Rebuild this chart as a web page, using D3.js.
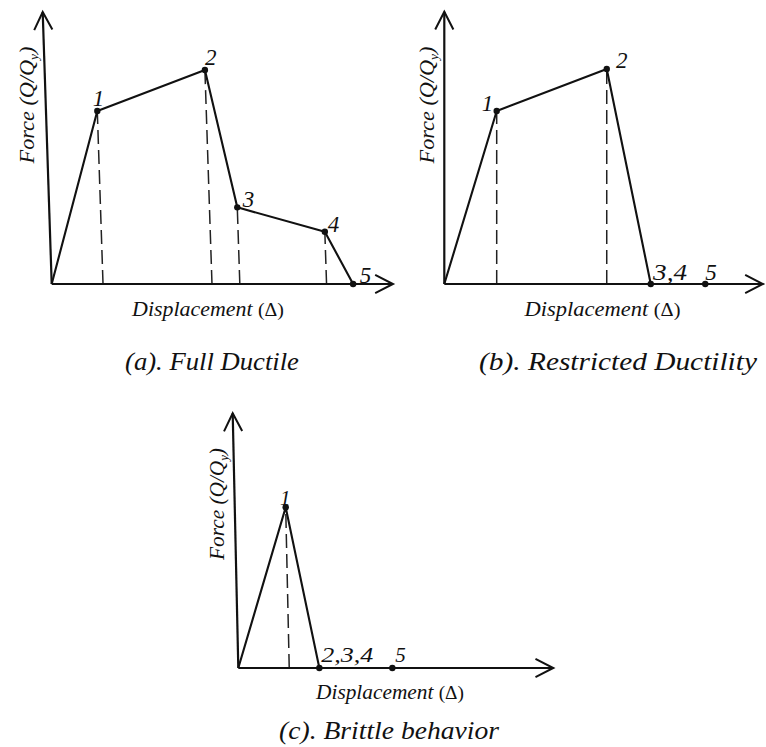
<!DOCTYPE html>
<html>
<head>
<meta charset="utf-8">
<script src="https://cdn.jsdelivr.net/npm/d3@7"></script>
<style>
  html, body { margin: 0; padding: 0; background: #fff; }
  svg { display: block; }
  svg text { font-family: "Liberation Serif", serif; }
</style>
</head>
<body>
<script>
// Idealised force–displacement curves.
// Displacement in units of yield displacement (Δ/Δy), force as Q/Qy.
const ductileDisp   = [0, 1.00, 3.36, 4.07, 5.99, 6.61];
const ductileForce  = [0, 1.00, 1.237, 0.443, 0.302, 0];
const ductileLabels = [null, "1", "2", "3", "4", "5"];

const restrictedDisp   = [0, 1.00, 3.10, 3.94, 4.98];
const restrictedForce  = [0, 1.00, 1.243, 0, 0];
const restrictedLabels = [null, "1", "2", "3,4", "5"];

const brittleDisp   = [0, 1.00, 1.71, 3.25];
const brittleForce  = [0, 1.00, 0, 0];
const brittleLabels = [null, "1", "2,3,4", "5"];

const panelTitles = ["(a). Full Ductile", "(b). Restricted Ductility", "(c). Brittle behavior"];
const xAxisWord = "Displacement";
const xAxisSymbol = "(Δ)";
const yAxisWord = "Force";

// Axis extents of each panel (data units)
const axisXMax = [7.485, 6.082, 6.646];
const axisYMax = [1.572, 1.574, 1.585];

const W = 766, H = 747;

const svg = d3.select("body").append("svg")
  .attr("width", W).attr("height", H)
  .style("background", "#fff");

// Panel frames: where each pair of axes sits on the page
const panels = [
  {
    disp: ductileDisp, force: ductileForce, labels: ductileLabels,
    title: panelTitles[0], xMax: axisXMax[0], yMax: axisYMax[0],
    ox: 51.7, oy: 284, xTip: 393, yTip: 12, lean: -9,
    labelOffsets: [null, [-4.6, -5], [0, -5], [5.4, -0.6], [3, 0], [6.7, -1]],
    labelWidths: {}, labelSize: 23,
    xTitle: { cx: 208, by: 316, w: 152 },
    yTitle: { bx: 34, cy: 105, w: 117 },
    titleBox: { cx: 212, by: 370, w: 174 }
  },
  {
    disp: restrictedDisp, force: restrictedForce, labels: restrictedLabels,
    title: panelTitles[1], xMax: axisXMax[1], yMax: axisYMax[1],
    ox: 444.3, oy: 284, xTip: 763, yTip: 11.7, lean: 0,
    labelOffsets: [null, [-15, 0], [9.3, -1], [2.3, -4], [0, -4]],
    labelWidths: { "3,4": 34 }, labelSize: 23,
    xTitle: { cx: 602.5, by: 316, w: 156 },
    yTitle: { bx: 434, cy: 105, w: 117 },
    titleBox: { cx: 618, by: 370, w: 278 }
  },
  {
    disp: brittleDisp, force: brittleForce, labels: brittleLabels,
    title: panelTitles[2], xMax: axisXMax[2], yMax: axisYMax[2],
    ox: 238.3, oy: 668, xTip: 553.3, yTip: 413.3, lean: -5.6,
    labelOffsets: [null, [-5.7, -2.3], [2, -6], [3, -6]],
    labelWidths: { "2,3,4": 52 }, labelSize: 21,
    xTitle: { cx: 390, by: 699, w: 148 },
    yTitle: { bx: 224, cy: 504, w: 112 },
    titleBox: { cx: 389, by: 739, w: 220 }
  }
];

// Open "V" arrowhead at a tip, pointing along (dx, dy)
function arrowHead(g, tx, ty, dx, dy) {
  const len = Math.hypot(dx, dy), ux = dx / len, uy = dy / len;
  const L = 20, a = 27 * Math.PI / 180;
  const rot = (s) => [ux * Math.cos(s) - uy * Math.sin(s), ux * Math.sin(s) + uy * Math.cos(s)];
  const r1 = rot(a), r2 = rot(-a);
  g.append("path")
    .attr("d", `M${tx - L * r1[0]},${ty - L * r1[1]} L${tx},${ty} L${tx - L * r2[0]},${ty - L * r2[1]}`)
    .attr("fill", "none").attr("stroke", "#111").attr("stroke-width", 2)
    .attr("stroke-linejoin", "miter");
}

// Squeeze/stretch a text node horizontally to a target width
function fitWidth(sel, target, tx, ty, rotate) {
  const natural = sel.node().getComputedTextLength();
  const s = natural > 0 ? target / natural : 1;
  sel.attr("transform", `translate(${tx},${ty})${rotate ? " rotate(-90)" : ""} scale(${s},1)`);
}

panels.forEach(p => {
  const g = svg.append("g");
  const x = d3.scaleLinear().domain([0, p.xMax]).range([p.ox, p.xTip]);
  const y = d3.scaleLinear().domain([0, p.yMax]).range([p.oy, p.yTip]);
  // horizontal drift of verticals per pixel of height (the y axis leans slightly)
  const leanPerPx = p.lean / (y(0) - y(p.yMax));

  const pts = p.disp.map((d, i) => ({ d, f: p.force[i], label: p.labels[i], i }));

  // Drop lines from each loaded point to the displacement axis
  g.selectAll("line.drop")
    .data(pts.filter(q => q.f > 0))
    .join("line")
    .attr("class", "drop")
    .attr("x1", q => x(q.d) - leanPerPx * (y(0) - y(q.f)))
    .attr("y1", y(0))
    .attr("x2", q => x(q.d))
    .attr("y2", q => y(q.f))
    .attr("stroke", "#222").attr("stroke-width", 1.5)
    .attr("stroke-dasharray", "14,6");

  // Axes
  g.append("line")
    .attr("x1", x(0)).attr("y1", y(0)).attr("x2", x(p.xMax)).attr("y2", y(0))
    .attr("stroke", "#111").attr("stroke-width", 2.2);
  g.append("line")
    .attr("x1", x(0)).attr("y1", y(0)).attr("x2", x(0) + p.lean).attr("y2", y(p.yMax))
    .attr("stroke", "#111").attr("stroke-width", 2.2);
  arrowHead(g, x(p.xMax), y(0), 1, 0);
  arrowHead(g, x(0) + p.lean, y(p.yMax), p.lean, y(p.yMax) - y(0));

  // Response curve
  const line = d3.line().x(q => x(q.d)).y(q => y(q.f));
  g.append("path")
    .datum(pts)
    .attr("d", line)
    .attr("fill", "none").attr("stroke", "#111").attr("stroke-width", 2.1)
    .attr("stroke-linejoin", "round");

  // Performance points
  g.selectAll("circle.pt")
    .data(pts.filter(q => q.i > 0))
    .join("circle")
    .attr("class", "pt")
    .attr("cx", q => x(q.d)).attr("cy", q => y(q.f)).attr("r", 3.2)
    .attr("fill", "#111");

  // Point numbers
  pts.filter(q => q.label).forEach(q => {
    const off = p.labelOffsets[q.i];
    const t = g.append("text")
      .attr("x", 0).attr("y", 0)
      .style("font-style", "italic")
      .attr("font-size", p.labelSize).attr("fill", "#111")
      .text(q.label);
    const tx = x(q.d) + off[0], ty = y(q.f) + off[1];
    if (p.labelWidths[q.label]) fitWidth(t, p.labelWidths[q.label], tx, ty, false);
    else t.attr("transform", `translate(${tx},${ty})`);
  });

  // Displacement axis title
  const xt = g.append("text")
    .attr("x", 0).attr("y", 0)
    .attr("text-anchor", "middle")
    .attr("font-size", 21).attr("fill", "#111");
  xt.append("tspan").style("font-style", "italic").text(xAxisWord + " ");
  xt.append("tspan").style("font-style", "normal").attr("font-size", 19).text(xAxisSymbol);
  fitWidth(xt, p.xTitle.w, p.xTitle.cx, p.xTitle.by, false);

  // Force axis title (rotated)
  const yt = g.append("text")
    .attr("x", 0).attr("y", 0)
    .attr("text-anchor", "middle")
    .style("font-style", "italic")
    .attr("font-size", 20).attr("fill", "#111");
  yt.append("tspan").text(yAxisWord + " (Q/Q");
  yt.append("tspan").attr("font-size", 12).attr("dy", 4).text("y");
  yt.append("tspan").attr("dy", -4).text(")");
  fitWidth(yt, p.yTitle.w, p.yTitle.bx, p.yTitle.cy, true);

  // Panel caption
  const ct = g.append("text")
    .attr("x", 0).attr("y", 0)
    .attr("text-anchor", "middle")
    .style("font-style", "italic")
    .attr("font-size", 25).attr("fill", "#111")
    .text(p.title);
  fitWidth(ct, p.titleBox.w, p.titleBox.cx, p.titleBox.by, false);
});
</script>
</body>
</html>
